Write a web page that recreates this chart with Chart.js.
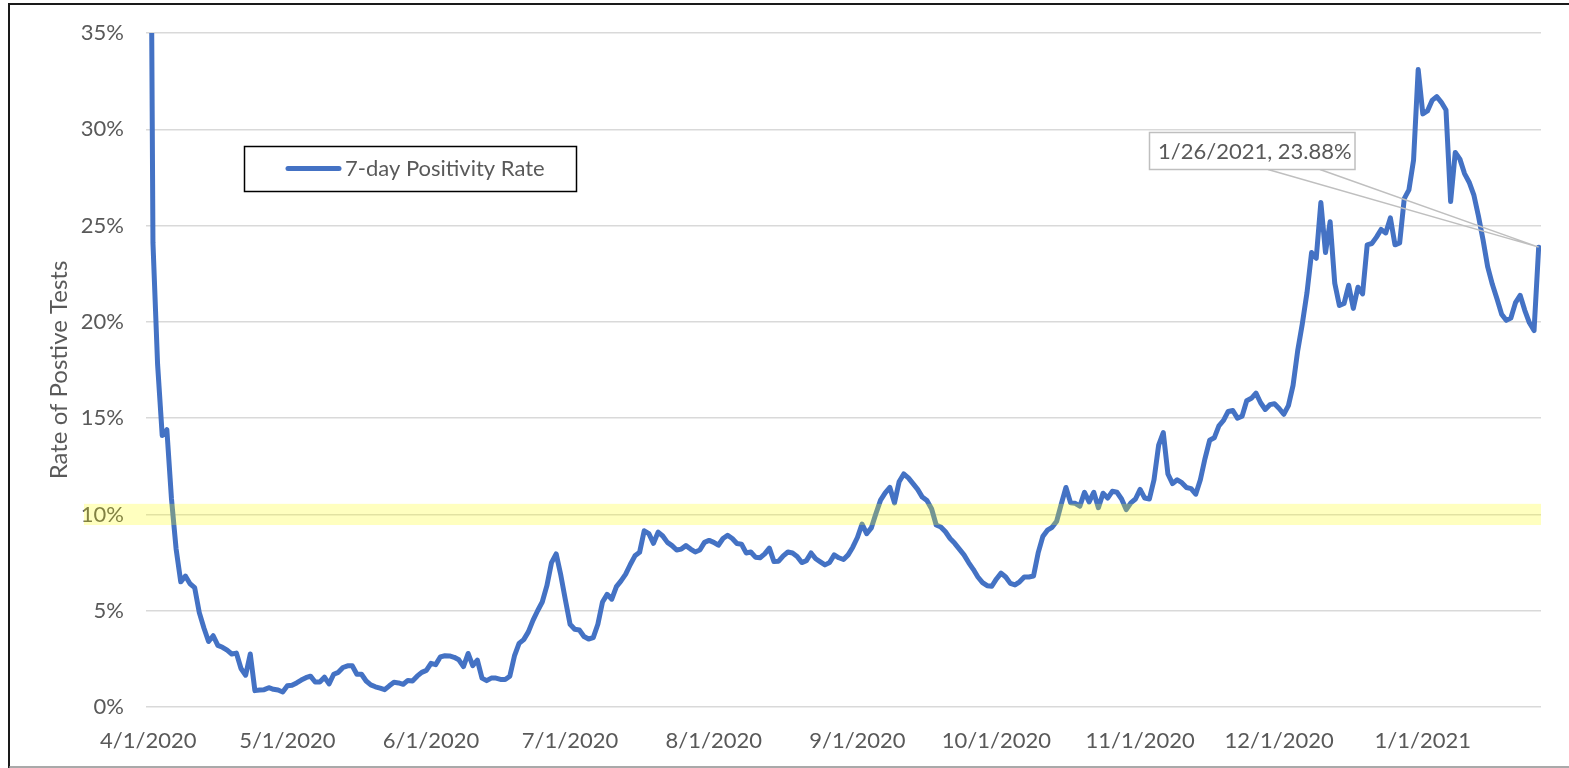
<!DOCTYPE html>
<html><head><meta charset="utf-8">
<script src="https://cdn.jsdelivr.net/npm/chart.js@4.4.1/dist/chart.umd.min.js"></script>
<style>html,body{margin:0;padding:0;background:#fff;}canvas{display:block;}</style>
</head><body>
<canvas id="c" width="1569" height="768"></canvas>
<script>
// ---- data ----
const seriesName = '7-day Positivity Rate';
const yAxisTitle = 'Rate of Postive Tests';
const monthTickIdx = [0, 30, 61, 91, 122, 153, 183, 214, 244, 275];
const monthTickLabels = ['4/1/2020','5/1/2020','6/1/2020','7/1/2020','8/1/2020','9/1/2020','10/1/2020','11/1/2020','12/1/2020','1/1/2021'];
const yTickValues = [0, 5, 10, 15, 20, 25, 30, 35];
const lastDateLabel = '1/26/2021';
const highlightLow = 9.45;
const highlightHigh = 10.55;
// daily 7-day positivity (%) from 4/1/2020 to 1/26/2021
const positivity = [
  65, 24.1, 17.8, 14.1, 14.4, 10.8, 8.2, 6.5, 6.8, 6.4,
  6.2, 4.9, 4.1, 3.4, 3.7, 3.2, 3.1, 2.95, 2.75, 2.8,
  2.0, 1.65, 2.75, 0.85, 0.88, 0.9, 1.0, 0.92, 0.88, 0.78,
  1.1, 1.13, 1.25, 1.4, 1.52, 1.6, 1.3, 1.3, 1.55, 1.2,
  1.7, 1.8, 2.05, 2.14, 2.14, 1.7, 1.7, 1.35, 1.15, 1.05,
  0.98, 0.9, 1.1, 1.28, 1.25, 1.18, 1.38, 1.35, 1.6, 1.8,
  1.9, 2.27, 2.2, 2.6, 2.66, 2.65, 2.58, 2.45, 2.1, 2.78,
  2.15, 2.43, 1.5, 1.37, 1.5, 1.5, 1.43, 1.43, 1.6, 2.65,
  3.3, 3.5, 3.9, 4.5, 5.0, 5.45, 6.3, 7.5, 7.95, 6.85,
  5.55, 4.3, 4.04, 4.0, 3.66, 3.53, 3.6, 4.3, 5.45, 5.85,
  5.6, 6.25, 6.55, 6.9, 7.4, 7.85, 8.03, 9.15, 9.0, 8.5,
  9.08, 8.88, 8.55, 8.38, 8.15, 8.2, 8.38, 8.2, 8.05, 8.15,
  8.55, 8.65, 8.55, 8.4, 8.75, 8.92, 8.75, 8.49, 8.45, 8.0,
  8.05, 7.78, 7.75, 7.95, 8.25, 7.55, 7.57, 7.85, 8.05, 8.0,
  7.82, 7.5, 7.6, 8.0, 7.7, 7.54, 7.38, 7.5, 7.9, 7.75,
  7.66, 7.9, 8.3, 8.8, 9.5, 9.0, 9.3, 10.05, 10.74, 11.12,
  11.4, 10.6, 11.7, 12.1, 11.9, 11.6, 11.3, 10.9, 10.72, 10.3,
  9.45, 9.35, 9.1, 8.75, 8.5, 8.2, 7.9, 7.5, 7.15, 6.75,
  6.46, 6.3, 6.27, 6.65, 6.95, 6.75, 6.42, 6.34, 6.5, 6.75,
  6.75, 6.8, 8.0, 8.85, 9.18, 9.33, 9.65, 10.55, 11.4, 10.6,
  10.58, 10.43, 11.15, 10.65, 11.15, 10.35, 11.1, 10.85, 11.2, 11.15,
  10.8, 10.25, 10.6, 10.8, 11.3, 10.85, 10.8, 11.8, 13.6, 14.25,
  12.1, 11.6, 11.8, 11.65, 11.4, 11.34, 11.05, 11.8, 12.9, 13.85,
  13.98, 14.6, 14.88, 15.35, 15.4, 15.0, 15.1, 15.9, 16.03, 16.3,
  15.8, 15.45, 15.7, 15.75, 15.5, 15.2, 15.65, 16.7, 18.5, 19.9,
  21.5, 23.6, 23.3, 26.2, 23.6, 25.2, 22.0, 20.85, 20.95, 21.9,
  20.7, 21.8, 21.45, 24.0, 24.07, 24.4, 24.8, 24.62, 25.4, 24.0,
  24.1, 26.4, 26.85, 28.4, 33.1, 30.8, 30.95, 31.5, 31.7, 31.4,
  31.0, 26.25, 28.8, 28.45, 27.7, 27.25, 26.6, 25.5, 24.25, 22.85,
  21.95, 21.2, 20.4, 20.08, 20.2, 21.0, 21.38, 20.6, 19.95, 19.55,
  23.88
];

// ---- styling ----
const FONT = 'Lato, "Noto Sans", sans-serif';
const TEXT = '#595959';
const LINE = '#4472C4';

const framePlugin = {
  id: 'frame',
  beforeDraw(chart) {
    const c = chart.ctx;
    c.save(); c.fillStyle = '#fff'; c.fillRect(0, 0, chart.width, chart.height); c.restore();
  },
  afterDraw(chart) {
    const c = chart.ctx;
    c.save();
    c.strokeStyle = '#1a1a1a'; c.lineWidth = 2;
    c.beginPath(); c.moveTo(9, 768); c.lineTo(9, 4); c.lineTo(1569, 4); c.stroke();
    c.strokeStyle = '#8c8c8c'; c.lineWidth = 1.5;
    c.beginPath(); c.moveTo(9, 767); c.lineTo(1569, 767); c.stroke();
    c.restore();
  }
};

const bandPlugin = {
  id: 'band',
  afterDatasetsDraw(chart) {
    const c = chart.ctx, y = chart.scales.y, a = chart.chartArea;
    const t = y.getPixelForValue(highlightHigh), b = y.getPixelForValue(highlightLow);
    c.save();
    c.fillStyle = 'rgba(255,255,0,0.25)';
    c.fillRect(84, t, a.right - 84, b - t);
    c.restore();
  }
};

const legendPlugin = {
  id: 'boxLegend',
  afterDraw(chart) {
    const c = chart.ctx;
    const ds = chart.data.datasets[0];
    c.save();
    c.strokeStyle = '#000'; c.lineWidth = 1.5;
    c.strokeRect(244.5, 146.5, 332, 45);
    c.strokeStyle = ds.borderColor; c.lineWidth = 5; c.lineCap = 'round';
    c.beginPath(); c.moveTo(288, 168.5); c.lineTo(339, 168.5); c.stroke();
    c.fillStyle = TEXT; c.font = '22px ' + FONT; c.textBaseline = 'middle'; c.textAlign = 'left';
    c.fillText(ds.label, 345, 169);
    c.restore();
  }
};

const calloutPlugin = {
  id: 'callout',
  afterDraw(chart) {
    const c = chart.ctx;
    const meta = chart.getDatasetMeta(0);
    const last = meta.data[meta.data.length - 1];
    const val = positivity[positivity.length - 1];
    const txt = lastDateLabel + ', ' + val.toFixed(2) + '%';
    const bx = 1149.5, by = 132.5, bw = 205.5, bh = 37;
    c.save();
    c.strokeStyle = '#BFBFBF'; c.lineWidth = 1.5;
    c.beginPath();
    c.moveTo(1268, by + bh); c.lineTo(last.x, last.y);
    c.moveTo(1320, by + bh); c.lineTo(last.x, last.y);
    c.stroke();
    c.fillStyle = '#fff'; c.fillRect(bx, by, bw, bh);
    c.strokeRect(bx, by, bw, bh);
    c.fillStyle = TEXT; c.font = '22px ' + FONT; c.textBaseline = 'middle'; c.textAlign = 'left';
    c.fillText(txt, 1158, 152);
    c.restore();
  }
};

new Chart(document.getElementById('c'), {
  type: 'line',
  data: {
    datasets: [{
      label: seriesName,
      data: positivity.map((v, i) => ({ x: i, y: v })),
      borderColor: LINE,
      backgroundColor: LINE,
      borderWidth: 5,
      pointRadius: 0,
      tension: 0,
      clip: 0,
      borderJoinStyle: 'round',
      borderCapStyle: 'round'
    }]
  },
  options: {
    responsive: false,
    animation: false,
    devicePixelRatio: 1,
    layout: { padding: { left: 0, top: 33, right: 28, bottom: 0 } },
    plugins: { legend: { display: false }, tooltip: { enabled: false } },
    scales: {
      x: {
        type: 'linear', min: -0.5, max: 300.5,
        afterBuildTicks: s => { s.ticks = monthTickIdx.map(v => ({ value: v })); },
        ticks: {
          autoSkip: false, maxRotation: 0, minRotation: 0, padding: 21,
          color: TEXT, font: { family: FONT, size: 22 },
          callback: v => { const i = monthTickIdx.indexOf(v); return i >= 0 ? monthTickLabels[i] : ''; }
        },
        grid: { display: false, drawTicks: false },
        border: { display: false },
        afterFit: s => { s.height = 61; s.paddingLeft = 0; s.paddingRight = 0; }
      },
      y: {
        min: 0, max: 35,
        afterBuildTicks: s => { s.ticks = yTickValues.map(v => ({ value: v })); },
        ticks: { padding: 22, color: TEXT, font: { family: FONT, size: 22 }, callback: v => v + '%' },
        grid: { color: '#D9D9D9', lineWidth: 1.5, drawTicks: false },
        border: { display: false },
        title: { display: true, text: yAxisTitle, color: TEXT, font: { family: FONT, size: 24 }, padding: { top: 45, bottom: 0 } },
        afterFit: s => { s.width = 146; s.paddingTop = 0; s.paddingBottom = 0; }
      }
    }
  },
  plugins: [framePlugin, bandPlugin, legendPlugin, calloutPlugin]
});
</script>
</body></html>
